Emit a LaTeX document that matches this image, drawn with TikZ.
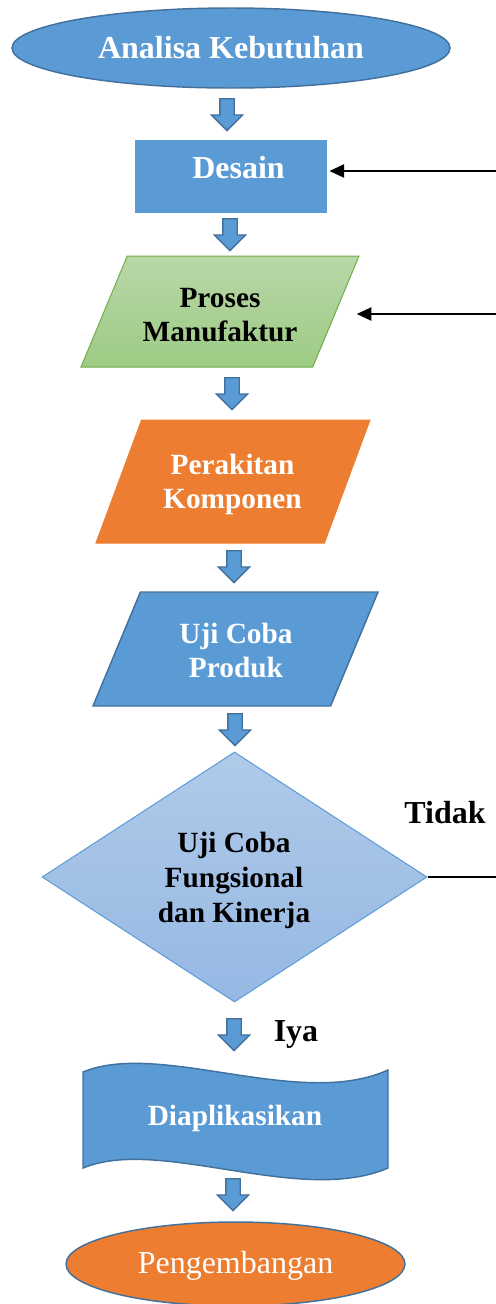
\documentclass[tikz,border=0pt]{standalone}
\usepackage{fontspec}
\setmainfont{Liberation Serif}
\usetikzlibrary{shapes.geometric,shapes.arrows,arrows.meta}

\definecolor{fcblue}{RGB}{91,155,213}
\definecolor{fcdark}{RGB}{65,113,156}
\definecolor{fcorange}{RGB}{237,125,49}
\definecolor{fcgreen}{RGB}{112,173,71}
\definecolor{fcgreentop}{RGB}{184,215,168}
\definecolor{fcgreenbot}{RGB}{158,203,132}
\definecolor{fcdiatop}{RGB}{176,202,233}
\definecolor{fcdiabot}{RGB}{149,184,227}

\tikzset{every picture/.style={line width=0.75pt},
  blockarr/.style={single arrow, rotate=-90, anchor=tail, draw=fcdark, fill=fcblue, line width=1pt,
    minimum height=24pt, minimum width=22.5pt, single arrow head extend=6.4pt, inner xsep=0pt, inner ysep=4.875pt},
  bigfont/.style={font=\fontsize{24}{28}\selectfont\bfseries},
  boxfont/.style={font=\fontsize{22}{26}\selectfont\bfseries, align=center, inner sep=0pt},
  para/.style={trapezium, trapezium stretches=true, trapezium left angle=76, trapezium right angle=104, inner sep=3pt},
  fbarrow/.style={line width=1.1pt, -{Triangle[length=11pt,width=10pt]}}
}

\begin{document}
\begin{tikzpicture}[x=0.75pt,y=0.75pt,yscale=-1,xscale=1]
\useasboundingbox (0,0) rectangle (496,1304);

%Shape: Ellipse [start]
\node [ellipse, draw=fcdark, fill=fcblue, line width=1.1pt, minimum width=328.5pt, minimum height=60pt, text=white, bigfont] (analisa) at (231,48) {Analisa Kebutuhan};
%Block Arrow
\node [blockarr] (ba1) at (227,98) {};

%Shape: Rectangle
\node [draw=fcblue, fill=fcblue, minimum width=143.25pt, minimum height=54pt] (desain) at (230.5,176) {};
% Text Node
\node [text=white, bigfont] (desaintxt) at (238.5,168) {Desain};
%Block Arrow
\node [blockarr] (ba2) at (230,218) {};

%Shape: Parallelogram
\node [para, draw=fcgreen, top color=fcgreentop, bottom color=fcgreenbot, minimum width=208.5pt, minimum height=83.25pt] (proses) at (220,311.5) {};
% Text Node
\node [boxfont] (prosestxt) at (220,315) {Proses\\Manufaktur};
%Block Arrow
\node [blockarr] (ba3) at (232,377) {};

%Shape: Parallelogram
\node [para, draw=fcorange, fill=fcorange, minimum width=205.5pt, minimum height=92.25pt] (perakitan) at (233,481.5) {};
% Text Node
\node [text=white, boxfont] (perakitantxt) at (232.5,484.5) {Perakitan\\Komponen};
%Block Arrow
\node [blockarr] (ba4) at (234,550) {};

%Shape: Parallelogram
\node [para, draw=fcdark, fill=fcblue, line width=1.1pt, minimum width=213.75pt, minimum height=85.5pt] (ujiproduk) at (235.5,649) {};
% Text Node
\node [text=white, boxfont] (ujiproduktxt) at (236,650.5) {Uji Coba\\Produk};
%Block Arrow
\node [blockarr] (ba5) at (235,713) {};

%Shape: Diamond
\node [diamond, draw=fcblue, top color=fcdiatop, bottom color=fcdiabot, minimum width=288.75pt, minimum height=187.5pt, inner sep=0pt] (ujifungsi) at (234.5,877) {};
% Text Node
\node [boxfont] (ujifungsitxt) at (234,880.5) {Uji Coba\\Fungsional\\dan Kinerja};
%Block Arrow
\node [blockarr] (ba6) at (234,1018) {};

%Shape: Wave
\draw [draw=fcdark, fill=fcblue, line width=1.1pt] (83,1072) .. controls (160,1040) and (300,1110) .. (388,1070) -- (388,1168) .. controls (300,1206) and (160,1136) .. (83,1168) -- cycle;
% Text Node
\node [text=white, boxfont] (diaplikasikan) at (235,1118) {Diaplikasikan};
%Block Arrow
\node [blockarr] (ba7) at (233,1178) {};

%Shape: Ellipse [end]
\node [ellipse, draw=fcdark, fill=fcorange, line width=1.1pt, minimum width=254.25pt, minimum height=63pt] (pengembangan) at (235.5,1264) {};
% Text Node
\node [text=white, font=\fontsize{24}{28}\selectfont] (pengembangantxt) at (235.5,1266) {Pengembangan};

%Feedback Lines
\coordinate (fbDesain) at (496,171);
\coordinate (fbProses) at (496,314);
\coordinate (fbTidak) at (496,879);
\draw [fbarrow] (fbDesain) -- ([xshift=2.25pt]desain.east |- fbDesain);
\draw [fbarrow] (fbProses) -- ([xshift=15.25pt]proses.east |- fbProses);
\draw [line width=1.5pt] (ujifungsi.east) -- (ujifungsi.east -| fbTidak);

% Text Node
\node [bigfont] (tidak) at (445,813) {Tidak};
% Text Node
\node [bigfont] (iya) at (296,1034) {Iya};

\end{tikzpicture}
\end{document}
